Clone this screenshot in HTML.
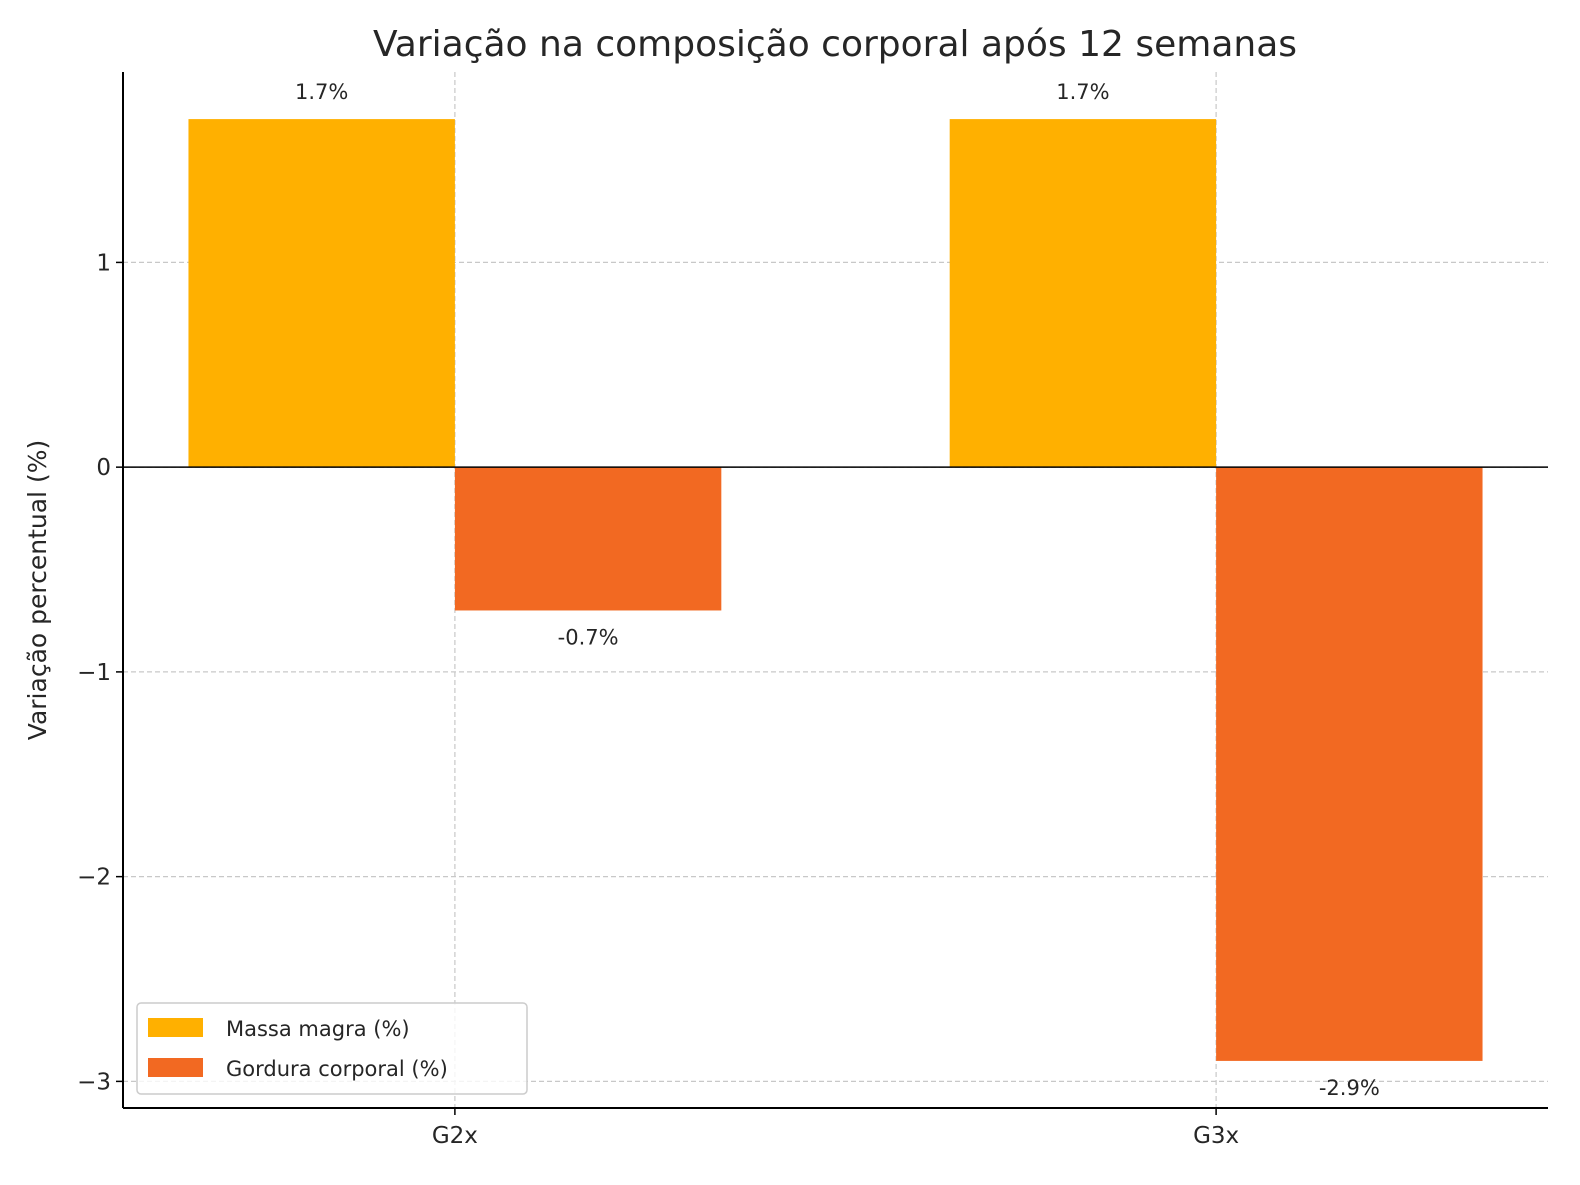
<!DOCTYPE html>
<html><head><meta charset="utf-8"><style>
html,body{margin:0;padding:0;background:#fff;}
svg text{font-family:"DejaVu Sans","Liberation Sans",sans-serif;fill:#262626;}
</style></head><body>
<svg id="chart" width="1580" height="1180" xmlns="http://www.w3.org/2000/svg">
<text x="835" y="56" font-size="36" text-anchor="middle">Variação na composição corporal após 12 semanas</text>
<text transform="translate(46,590) rotate(-90)" font-size="25" text-anchor="middle">Variação percentual (%)</text>
<g id="grid"></g><g id="bars"></g><g id="labels"></g><g id="axes"></g>
<g>
<rect x="137" y="1003" width="390" height="91" rx="4" fill="#fff" fill-opacity="0.8" stroke="#ccc" stroke-width="1.5"/>
<rect x="148" y="1018" width="55" height="19" fill="#FFB000"/>
<text x="226" y="1036" font-size="21">Massa magra (%)</text>
<rect x="148" y="1058" width="55" height="19" fill="#F26922"/>
<text x="226" y="1076" font-size="21">Gordura corporal (%)</text>
</g>
</svg>
<script>
const categories = ["G2x","G3x"];
const massaValues = [1.7, 1.7];
const gorduraValues = [-0.7, -2.9];
const yTicks = [1, 0, -1, -2, -3];
const yTickLabels = ["1","0","\u22121","\u22122","\u22123"];

const L=123,R=1548,T=72,B=1108;
const xMin=-0.436,xMax=1.436,yMin=-3.13,yMax=1.93;
const xs=v=>L+(v-xMin)/(xMax-xMin)*(R-L);
const ys=v=>T+(yMax-v)/(yMax-yMin)*(B-T);
const NS="http://www.w3.org/2000/svg";
function mk(parent,tag,attrs){const e=document.createElementNS(NS,tag);for(const k in attrs)e.setAttribute(k,attrs[k]);document.getElementById(parent).appendChild(e);return e;}
const bw=0.35;
yTicks.forEach((t,i)=>{
  const g=mk("grid","line",{x1:L,x2:R,y1:ys(t),y2:ys(t),stroke:"#c8c8c8","stroke-dasharray":"5,3","stroke-width":1.2});
  
  
  const tk=mk("axes","line",{x1:L-7,x2:L,y1:ys(t),y2:ys(t),stroke:"#000","stroke-width":1.5});
  
  
  const tl=mk("axes","text",{x:L-12,y:ys(t)+8,"font-size":23,"text-anchor":"end"});
  tl.textContent=yTickLabels[i];
  
  
});
categories.forEach((c,i)=>{
  const g=mk("grid","line",{x1:xs(i),x2:xs(i),y1:T,y2:B,stroke:"#c8c8c8","stroke-dasharray":"5,3","stroke-width":1.2});
  
  
  const m=massaValues[i],f=gorduraValues[i];
  const b1=mk("bars","rect",{x:xs(i-bw),y:Math.min(ys(m),ys(0)),width:xs(i)-xs(i-bw),height:Math.abs(ys(m)-ys(0)),fill:"#FFB000"});
  
  
  const b2=mk("bars","rect",{x:xs(i),y:Math.min(ys(f),ys(0)),width:xs(i+bw)-xs(i),height:Math.abs(ys(f)-ys(0)),fill:"#F26922"});
  
  
  const l1=mk("labels","text",{x:xs(i-bw/2),y:m>=0?ys(m)-20:ys(m)+34,"font-size":21,"text-anchor":"middle"});
  l1.textContent=m.toFixed(1)+"%";
  
  
  const l2=mk("labels","text",{x:xs(i+bw/2),y:f>=0?ys(f)-20:ys(f)+34,"font-size":21,"text-anchor":"middle"});
  l2.textContent=f.toFixed(1)+"%";
  
  
  const tk=mk("axes","line",{x1:xs(i),x2:xs(i),y1:B,y2:B+7,stroke:"#000","stroke-width":1.5});
  
  
  const tl=mk("axes","text",{x:xs(i),y:B+35,"font-size":23,"text-anchor":"middle"});
  tl.textContent=c;
  
  
});
const z=mk("axes","line",{x1:L,x2:R,y1:ys(0),y2:ys(0),stroke:"#000","stroke-width":1.5});


const sl=mk("axes","line",{x1:L,x2:L,y1:T,y2:B,stroke:"#000","stroke-width":2});


const sb=mk("axes","line",{x1:L,x2:R,y1:B,y2:B,stroke:"#000","stroke-width":2});


</script>
</body></html>
